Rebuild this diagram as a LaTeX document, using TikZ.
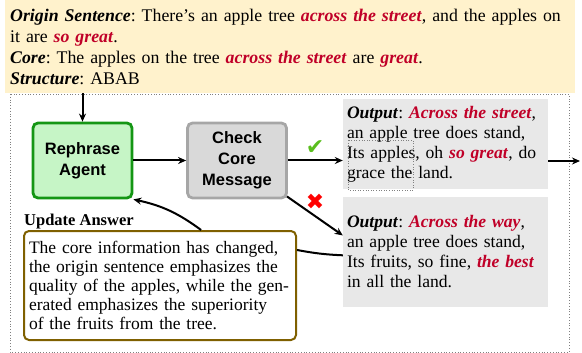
\documentclass[tikz,border=0pt]{standalone}
\usepackage{fontspec}
\setmainfont{Liberation Serif}
\setsansfont{Liberation Sans}
\newfontfamily\symfont{DejaVu Sans}
\usetikzlibrary{arrows.meta,positioning,calc}
\frenchspacing
\definecolor{hlred}{RGB}{192,0,40}
\definecolor{topfill}{RGB}{255,242,204}
\definecolor{agentfill}{RGB}{198,245,198}
\definecolor{agentline}{RGB}{20,150,20}
\definecolor{checkfill}{RGB}{217,217,217}
\definecolor{checkline}{RGB}{166,166,166}
\definecolor{outfill}{RGB}{232,232,232}
\definecolor{updline}{RGB}{127,96,0}
\definecolor{okgreen}{RGB}{90,190,30}
\newcommand{\hl}[1]{\textcolor{hlred}{\textbf{\textit{#1}}}}
\newcommand{\kw}[1]{\textbf{\textit{#1}}}

\tikzset{
  agent/.style={draw, rounded corners=5pt, line width=2.8pt, align=center,
    font=\sffamily\bfseries\fontsize{16.5}{21}\selectfont,
    minimum width=99pt, minimum height=75pt, inner sep=2pt},
  outbox/.style={fill=outfill, text width=197pt, inner xsep=4pt, align=left,
    font=\fontsize{17.6}{20}\selectfont, minimum width=205pt},
  arr/.style={-{Stealth[length=8pt,width=7pt]}, line width=2pt},
}

\begin{document}
\begin{tikzpicture}[x=1pt,y=-1pt]
  \useasboundingbox (0,0) rectangle (582,353);
  % the task
  \node[fill=topfill, anchor=north west, text width=560pt, inner xsep=5pt,
    inner ysep=4pt, minimum height=93pt, align=left,
    font=\fontsize{17.8}{21}\selectfont] (origin) at (5,0)
    {\kw{Origin Sentence}: There's an apple tree \hl{across the street}, and the apples on\\
     it are \hl{so great}.\\
     \kw{Core}: The apples on the tree \hl{across the street} are \hl{great}.\\
     \kw{Structure}: ABAB};
  \draw[dotted, gray, line width=0.8pt] (10,94) rectangle (569,352);

  % agents
  \node[agent, fill=agentfill, draw=agentline] (rephrase) at (82.5,160.5) {Rephrase\\Agent};
  \node[agent, fill=checkfill, draw=checkline] (check) at (237,160.5) {Check\\Core\\Message};

  % outputs
  \node[outbox, minimum height=90pt] (out1) at (445.5,144)
    {\kw{Output}: \hl{Across the street},\\
     an apple tree does stand,\\
     Its apples, oh \hl{so great}, do\\
     grace the land.};
  \node[outbox, minimum height=110pt] (out2) at (445.5,252)
    {\kw{Output}: \hl{Across the way},\\
     an apple tree does stand,\\
     Its fruits, so fine, \hl{the best}\\
     in all the land.};
  \draw[dotted, gray, line width=0.6pt] (348,140) rectangle (413,190);

  \node[text=okgreen, font=\symfont\fontsize{22}{22}\selectfont] (ok) at (315,148) {✔};
  \node[text=red, font=\symfont\fontsize{22}{22}\selectfont] (no) at (315,202) {✖};

  % update answer
  \node[draw=updline, line width=2pt, rounded corners=5pt, text width=268pt,
    inner xsep=2pt, minimum height=109pt, align=left,
    font=\fontsize{17.5}{19}\selectfont] (update) at (160,285.5)
    {\hspace*{3pt}The core information has changed,\\
     \hspace*{3pt}the origin sentence emphasizes the\\
     \hspace*{3pt}quality of the apples, while the gen-\\
     \hspace*{3pt}erated emphasizes the superiority\\
     \hspace*{3pt}of the fruits from the tree.};
  \node[anchor=south west, font=\bfseries\fontsize{16.5}{18}\selectfont, inner sep=1pt]
    (updlabel) at (update.north west) {Update Answer};

  % connectors
  \coordinate (exit) at (580,161);
  \draw[arr] (origin.south -| rephrase) -- (rephrase.north);
  \draw[arr] (rephrase) -- (check);
  \draw[arr] (check.east) -- (check.east -| out1.west);
  \draw[arr] (out1.east |- exit) -- (exit);
  \draw[arr] (check.south east) ++(-1,-3) -- ($(out2.north west)!0.35!(out2.south west)$);
  \draw[line width=2pt] ($(out2.north west)!0.53!(out2.south west)$)
    to[bend left=4] ($(update.north east)!0.18!(update.south east)$);
  \draw[arr] ($(update.north west)!0.65!(update.north east)$)
    to[bend right=12] (rephrase.south east);
\end{tikzpicture}
\end{document}
